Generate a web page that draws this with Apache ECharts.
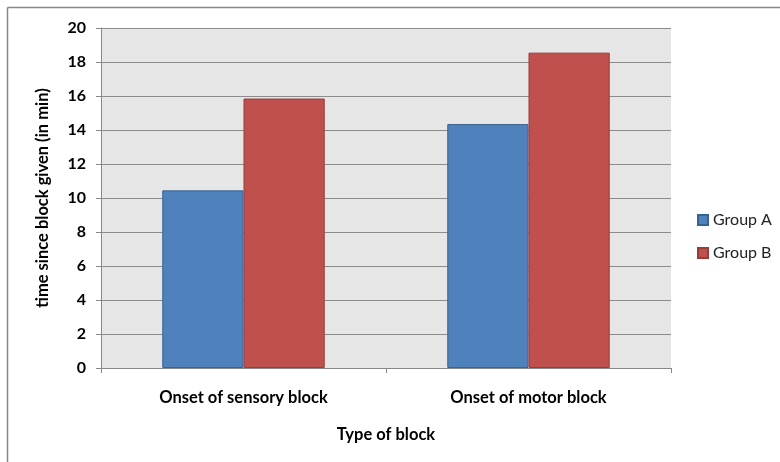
<!DOCTYPE html>
<html><head><meta charset="utf-8">
<script src="https://cdn.jsdelivr.net/npm/echarts@6/dist/echarts.min.js"></script>
<style>html,body{margin:0;padding:0;background:#fff}#c{width:780px;height:462px}</style>
</head><body><div id="c"></div>
<script>
const categories = ['Onset of sensory block', 'Onset of motor block'];
const groupA = [10.45, 14.35];
const groupB = [15.85, 18.55];
const seriesNames = ['Group A', 'Group B'];
const yTicks = {min: 0, max: 20, interval: 2};

const font = 'Lato, "Open Sans", sans-serif';
const chart = echarts.init(document.getElementById('c'), null, {renderer: 'canvas'});
chart.setOption({
  animation: false,
  backgroundColor: '#fff',
  graphic: [
    {type: 'line', shape: {x1: 7.5, y1: 7.5, x2: 780, y2: 7.5}, style: {stroke: '#888', lineWidth: 1.5}},
    {type: 'line', shape: {x1: 7.5, y1: 7.5, x2: 7.5, y2: 462}, style: {stroke: '#888', lineWidth: 1.5}}
  ],
  grid: {left: 101, right: 109, top: 28, bottom: 94, show: true, backgroundColor: '#e6e6e6', borderWidth: 0},
  legend: {
    orient: 'vertical', left: 692, top: 207, itemWidth: 10, itemHeight: 10, itemGap: 17,
    icon: 'rect',
    textStyle: {fontFamily: font, fontSize: 16, color: '#222'},
    data: seriesNames
  },
  xAxis: {
    type: 'category', data: categories,
    name: 'Type of block', nameLocation: 'middle', nameGap: 58,
    nameTextStyle: {fontFamily: font, fontSize: 16.5, fontWeight: 'bold', color: '#000'},
    axisLine: {lineStyle: {color: '#888'}},
    axisTick: {show: true, length: 5, lineStyle: {color: '#888'}},
    axisLabel: {fontFamily: font, fontSize: 16.5, fontWeight: 'bold', color: '#000', margin: 21}
  },
  yAxis: {
    type: 'value', min: yTicks.min, max: yTicks.max, interval: yTicks.interval,
    name: 'time since block given (in min)', nameLocation: 'middle', nameGap: 50,
    nameTextStyle: {fontFamily: font, fontSize: 16.5, fontWeight: 'bold', color: '#000'},
    axisLine: {show: true, lineStyle: {color: '#888'}},
    axisTick: {show: true, length: 5, lineStyle: {color: '#888'}},
    axisLabel: {fontFamily: font, fontSize: 16, fontWeight: 'bold', color: '#000', margin: 15},
    splitLine: {lineStyle: {color: '#8c8c8c', width: 1}}
  },
  series: [
    {name: seriesNames[0], type: 'bar', data: groupA, barWidth: '28.5%', barGap: '0%',
     itemStyle: {color: '#4f81bd', borderColor: '#3a6391', borderWidth: 1}},
    {name: seriesNames[1], type: 'bar', data: groupB, barWidth: '28.5%', barGap: '0%',
     itemStyle: {color: '#c0504d', borderColor: '#963c3a', borderWidth: 1}}
  ]
});
</script></body></html>
